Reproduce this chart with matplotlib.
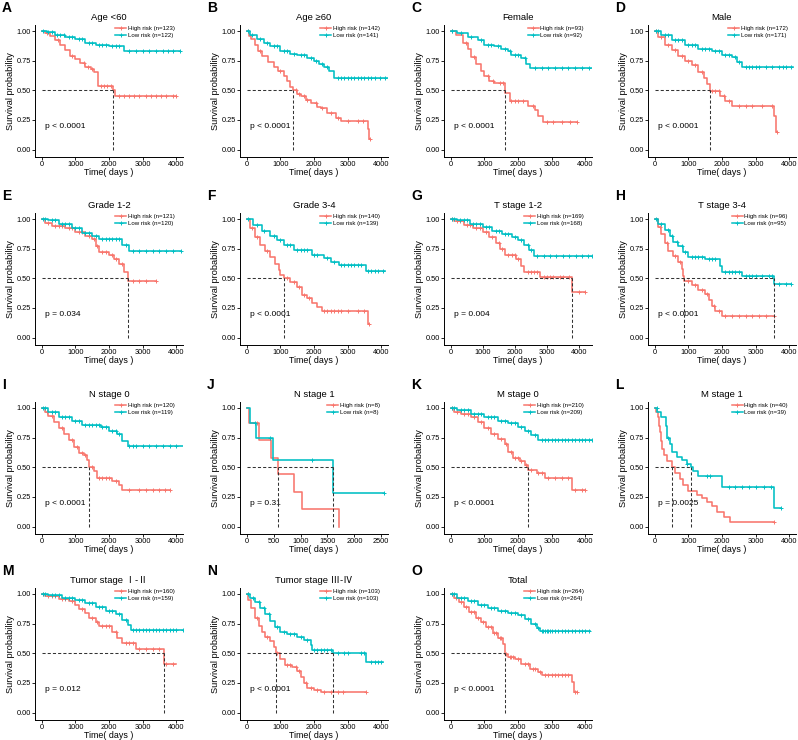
import numpy as np
import matplotlib
matplotlib.use('Agg')
import matplotlib.pyplot as plt
from matplotlib.lines import Line2D

plt.rcParams['font.family'] = ['Liberation Sans', 'Noto Sans CJK SC', 'DejaVu Sans']

# ---- data: (time, survival) step points + censor times ----
A_HIGH = [(0, 1), (100, 0.98), (250, 0.96), (400, 0.92), (550, 0.88), (700, 0.84), (850, 0.79), (1000, 0.76),
          (1150, 0.73), (1300, 0.70), (1450, 0.68), (1560, 0.65), (1660, 0.54), (2110, 0.50), (2180, 0.45), (4000, 0.45)]
A_HIGH_CENS = [150, 480, 900, 1250, 1380, 1500, 1750, 1850, 1950, 2050, 2300, 2450, 2600, 2750, 2900, 3100, 3250,
               3400, 3550, 3700, 3900, 4000]
A_LOW = [(0, 1), (150, 0.99), (400, 0.97), (700, 0.95), (1000, 0.93), (1300, 0.90), (1600, 0.88), (2000, 0.87),
         (2450, 0.83), (4100, 0.83)]
A_LOW_CENS = [50, 200, 300, 450, 550, 650, 800, 900, 1100, 1200, 1400, 1500, 1700, 1800, 1900, 2100, 2200, 2300,
              2600, 2800, 3000, 3200, 3400, 3600, 3750, 3900, 4100]

B_HIGH = [(0, 1), (60, 0.96), (130, 0.93), (250, 0.88), (330, 0.83), (450, 0.79), (625, 0.74), (800, 0.70),
          (920, 0.66), (1100, 0.62), (1200, 0.58), (1300, 0.53), (1370, 0.50), (1500, 0.47), (1620, 0.45),
          (1750, 0.42), (1915, 0.39), (2100, 0.36), (2200, 0.35), (2400, 0.31), (2650, 0.27), (2800, 0.24),
          (3600, 0.17), (3640, 0.09), (3660, 0.09)]
B_HIGH_CENS = [50, 400, 1000, 1450, 1550, 1700, 1800, 2050, 2250, 2500, 2700, 3000, 3300, 3450, 3660]
B_LOW = [(0, 1), (100, 0.97), (300, 0.93), (500, 0.90), (700, 0.87), (1000, 0.83), (1300, 0.81), (1500, 0.80),
         (1800, 0.77), (2000, 0.75), (2150, 0.72), (2300, 0.70), (2450, 0.66), (2600, 0.60), (4200, 0.60)]
B_LOW_CENS = [30, 150, 400, 600, 800, 900, 1100, 1200, 1400, 1600, 1700, 1900, 2050, 2250, 2400, 2700, 2800, 2900,
              3000, 3100, 3200, 3300, 3400, 3500, 3600, 3700, 3800, 3950, 4100]

C_HIGH = [(0, 1), (150, 0.97), (350, 0.90), (500, 0.85), (600, 0.78), (750, 0.72), (900, 0.66), (1000, 0.62),
          (1150, 0.58), (1300, 0.56), (1620, 0.48), (1750, 0.41), (2300, 0.37), (2500, 0.33), (2600, 0.28),
          (2750, 0.23), (3750, 0.23)]
C_HIGH_CENS = [50, 450, 700, 1100, 1250, 1450, 1550, 1800, 1900, 2000, 2150, 2450, 2850, 3050, 3300, 3550, 3750]
C_LOW = [(0, 1), (200, 0.98), (500, 0.95), (800, 0.92), (1000, 0.88), (1300, 0.87), (1500, 0.85), (1700, 0.83),
         (1800, 0.80), (2100, 0.77), (2250, 0.72), (2350, 0.69), (4200, 0.69)]
C_LOW_CENS = [50, 300, 600, 900, 1100, 1200, 1400, 1600, 1750, 1900, 2000, 2200, 2500, 2700, 2900, 3100, 3300,
              3500, 3700, 3900, 4100]

D_HIGH = [(0, 1), (100, 0.95), (300, 0.88), (500, 0.84), (700, 0.79), (900, 0.75), (1100, 0.71), (1300, 0.65),
          (1450, 0.60), (1550, 0.55), (1640, 0.49), (1950, 0.45), (2100, 0.41), (2300, 0.37), (3550, 0.28),
          (3610, 0.15), (3630, 0.15)]
D_HIGH_CENS = [50, 200, 400, 600, 800, 1000, 1200, 1400, 1700, 1800, 1900, 2050, 2200, 2500, 2700, 2900, 3200,
               3500, 3630]
D_LOW = [(0, 1), (200, 0.97), (500, 0.92), (900, 0.88), (1300, 0.85), (1700, 0.83), (2000, 0.80), (2300, 0.78),
         (2450, 0.74), (2600, 0.70), (4100, 0.70)]
D_LOW_CENS = [30, 100, 300, 400, 600, 700, 800, 1000, 1100, 1200, 1400, 1500, 1600, 1800, 1900, 2100, 2200, 2400,
              2500, 2700, 2800, 2900, 3000, 3100, 3300, 3500, 3700, 3800, 3900, 4050]

E_HIGH = [(0, 1), (100, 0.97), (300, 0.94), (700, 0.92), (1000, 0.89), (1300, 0.86), (1500, 0.83), (1600, 0.77),
          (1700, 0.72), (2000, 0.70), (2150, 0.66), (2300, 0.62), (2450, 0.55), (2570, 0.48), (3400, 0.48)]
E_HIGH_CENS = [200, 400, 500, 600, 800, 900, 1100, 1200, 1400, 1550, 1650, 1800, 1900, 2100, 2200, 2400, 2700,
               2900, 3100, 3400]
E_LOW = [(0, 1), (200, 0.99), (500, 0.96), (900, 0.92), (1200, 0.88), (1500, 0.86), (1700, 0.83), (2400, 0.78),
         (2600, 0.73), (4150, 0.73)]
E_LOW_CENS = [50, 100, 300, 400, 600, 700, 800, 1000, 1100, 1300, 1400, 1600, 1800, 1900, 2000, 2100, 2200, 2300,
              2500, 2700, 2900, 3100, 3300, 3500, 3700, 3900, 4150]

F_HIGH = [(0, 1), (100, 0.92), (250, 0.85), (400, 0.78), (550, 0.73), (700, 0.68), (850, 0.62), (950, 0.57),
          (1000, 0.53), (1120, 0.50), (1300, 0.47), (1500, 0.43), (1650, 0.36), (1800, 0.33), (1950, 0.29),
          (2100, 0.26), (2250, 0.22), (3600, 0.11), (3630, 0.11)]
F_HIGH_CENS = [150, 300, 600, 1200, 1400, 1550, 1700, 1850, 2300, 2400, 2500, 2600, 2700, 2800, 3000, 3300, 3500,
               3630]
F_LOW = [(0, 1), (200, 0.95), (450, 0.90), (700, 0.86), (900, 0.82), (1100, 0.78), (1400, 0.74), (1950, 0.70),
         (2300, 0.67), (2500, 0.64), (2750, 0.61), (3550, 0.56), (4100, 0.56)]
F_LOW_CENS = [50, 300, 500, 800, 1000, 1200, 1300, 1500, 1600, 1700, 1800, 2000, 2100, 2400, 2600, 2800, 2900,
              3000, 3100, 3200, 3300, 3400, 3600, 3700, 3800, 3900, 4050]

G_HIGH = [(0, 1), (100, 0.98), (400, 0.95), (700, 0.92), (1000, 0.89), (1200, 0.85), (1400, 0.80), (1550, 0.75),
          (1700, 0.70), (2050, 0.66), (2200, 0.60), (2300, 0.55), (2800, 0.51), (3780, 0.38), (4200, 0.38)]
G_HIGH_CENS = [50, 200, 300, 500, 600, 800, 900, 1100, 1300, 1500, 1600, 1800, 1900, 2000, 2100, 2400, 2500, 2600,
               2700, 2900, 3000, 3100, 3200, 3400, 3500, 3700, 4000, 4200]
G_LOW = [(0, 1), (200, 0.99), (600, 0.96), (1000, 0.93), (1300, 0.90), (1600, 0.87), (1900, 0.85), (2100, 0.82),
         (2300, 0.78), (2450, 0.74), (2600, 0.69), (4400, 0.69)]
G_LOW_CENS = [50, 100, 300, 400, 500, 700, 800, 900, 1100, 1200, 1400, 1500, 1700, 1800, 2000, 2200, 2400, 2500,
              2700, 2900, 3100, 3300, 3500, 3700, 3900, 4100, 4300, 4400]

H_HIGH = [(0, 1), (100, 0.93), (200, 0.87), (300, 0.80), (400, 0.73), (550, 0.69), (700, 0.64), (800, 0.58),
          (850, 0.52), (885, 0.48), (1100, 0.44), (1300, 0.40), (1500, 0.37), (1600, 0.32), (1700, 0.27),
          (1800, 0.22), (2000, 0.18), (3550, 0.18)]
H_HIGH_CENS = [150, 350, 600, 750, 1000, 1200, 1400, 1550, 1750, 1900, 2100, 2300, 2500, 2700, 2900, 3100, 3300,
               3550]
H_LOW = [(0, 1), (100, 0.96), (300, 0.91), (450, 0.86), (550, 0.81), (700, 0.77), (850, 0.72), (1000, 0.68),
         (1500, 0.66), (1950, 0.60), (2000, 0.55), (2600, 0.52), (3560, 0.45), (4050, 0.45)]
H_LOW_CENS = [50, 200, 400, 500, 650, 800, 900, 1100, 1200, 1300, 1400, 1600, 1700, 1800, 2100, 2200, 2300, 2400,
              2500, 2700, 2800, 2900, 3000, 3200, 3400, 3500, 3700, 3900, 4050]

I_HIGH = [(0, 1), (100, 0.97), (200, 0.93), (350, 0.88), (500, 0.83), (650, 0.78), (800, 0.73), (950, 0.67),
          (1100, 0.62), (1250, 0.60), (1350, 0.56), (1420, 0.50), (1550, 0.47), (1650, 0.41), (2100, 0.38),
          (2300, 0.35), (2400, 0.31), (3800, 0.31)]
I_HIGH_CENS = [150, 300, 600, 900, 1050, 1200, 1300, 1500, 1700, 1800, 1900, 2000, 2200, 2600, 2900, 3100, 3300,
               3500, 3650, 3800]
I_LOW = [(0, 1), (200, 0.97), (500, 0.92), (900, 0.89), (1200, 0.86), (1750, 0.84), (2000, 0.81), (2250, 0.78),
         (2400, 0.72), (2550, 0.68), (4200, 0.68)]
I_LOW_CENS = [50, 100, 300, 400, 600, 700, 800, 1000, 1100, 1300, 1400, 1500, 1600, 1700, 1800, 1900, 2100, 2200,
              2300, 2600, 2700, 2800, 3000, 3200, 3400, 3600, 3800, 4000]

J_HIGH = [(0, 1), (40, 0.875), (220, 0.73), (450, 0.58), (585, 0.44), (880, 0.29), (1030, 0.15), (1720, 0.0)]
J_HIGH_CENS = [190]
J_LOW = [(0, 1), (60, 0.875), (170, 0.75), (480, 0.56), (1600, 0.28), (2550, 0.28)]
J_LOW_CENS = [160, 440, 1220, 2550]

K_HIGH = [(0, 1), (100, 0.97), (300, 0.95), (600, 0.92), (800, 0.88), (1000, 0.83), (1200, 0.78), (1400, 0.74),
          (1600, 0.70), (1700, 0.63), (1850, 0.58), (2050, 0.55), (2200, 0.52), (2300, 0.48), (2550, 0.45),
          (2800, 0.41), (3620, 0.31), (4000, 0.31)]
K_HIGH_CENS = [50, 200, 400, 500, 700, 900, 1100, 1300, 1500, 1650, 1800, 1900, 2000, 2100, 2250, 2400, 2600, 2700,
               2900, 3100, 3300, 3500, 3700, 3900, 4000]
K_LOW = [(0, 1), (200, 0.98), (600, 0.95), (1000, 0.92), (1400, 0.89), (1700, 0.87), (2000, 0.84), (2200, 0.81),
         (2400, 0.77), (2600, 0.73), (4200, 0.73)]
K_LOW_CENS = [50, 100, 300, 400, 500, 700, 800, 900, 1100, 1200, 1300, 1500, 1600, 1800, 1900, 2100, 2300, 2500,
              2700, 2800, 2900, 3000, 3100, 3200, 3300, 3400, 3500, 3600, 3700, 3800, 3900, 4000, 4100, 4200]

L_HIGH = [(0, 1), (50, 0.97), (90, 0.92), (120, 0.85), (150, 0.80), (180, 0.72), (220, 0.65), (270, 0.60),
          (350, 0.55), (500, 0.50), (600, 0.45), (750, 0.40), (850, 0.35), (1000, 0.30), (1250, 0.27), (1400, 0.24),
          (1550, 0.21), (1700, 0.17), (1850, 0.12), (2050, 0.08), (2250, 0.04), (3550, 0.04)]
L_HIGH_CENS = [3550]
L_LOW = [(0, 1), (80, 0.97), (200, 0.92), (330, 0.85), (370, 0.75), (450, 0.70), (500, 0.63), (650, 0.59),
         (800, 0.56), (950, 0.53), (1085, 0.50), (1150, 0.47), (1300, 0.43), (2000, 0.33), (3560, 0.16), (3750, 0.16)]
L_LOW_CENS = [60, 380, 970, 1550, 1650, 2200, 2400, 2600, 2800, 3000, 3250, 3450, 3750]

M_HIGH = [(0, 1), (100, 0.98), (500, 0.96), (800, 0.94), (1000, 0.91), (1100, 0.87), (1300, 0.84), (1400, 0.80),
          (1600, 0.76), (1700, 0.73), (2100, 0.68), (2250, 0.63), (2400, 0.59), (2800, 0.54), (3630, 0.41),
          (4000, 0.41)]
M_HIGH_CENS = [50, 200, 300, 400, 600, 700, 900, 1200, 1500, 1650, 1800, 1900, 2000, 2200, 2500, 2600, 2700, 2900,
               3100, 3300, 3500, 3700, 3900]
M_LOW = [(0, 1), (200, 0.99), (600, 0.97), (1000, 0.95), (1300, 0.92), (1600, 0.89), (1900, 0.86), (2200, 0.83),
         (2400, 0.78), (2550, 0.74), (2650, 0.70), (4200, 0.70)]
M_LOW_CENS = [50, 100, 300, 400, 500, 700, 800, 900, 1100, 1200, 1400, 1500, 1700, 1800, 2000, 2100, 2300, 2500,
              2700, 2800, 2900, 3000, 3100, 3200, 3300, 3400, 3500, 3600, 3700, 3800, 3900, 4000, 4200]

N_HIGH = [(0, 1), (50, 0.95), (120, 0.88), (250, 0.80), (350, 0.73), (450, 0.68), (550, 0.64), (700, 0.60),
          (800, 0.55), (875, 0.50), (1000, 0.45), (1150, 0.40), (1350, 0.38), (1500, 0.35), (1600, 0.30),
          (1700, 0.25), (1800, 0.21), (2000, 0.19), (2200, 0.17), (3550, 0.17)]
N_HIGH_CENS = [30, 300, 600, 900, 1200, 1300, 1450, 1550, 1750, 1900, 2100, 2300, 2500, 2700, 2850, 3550]
N_LOW = [(0, 1), (100, 0.97), (250, 0.93), (400, 0.88), (550, 0.83), (700, 0.77), (850, 0.72), (1000, 0.68),
         (1200, 0.66), (1500, 0.64), (1700, 0.61), (1900, 0.57), (1950, 0.53), (2555, 0.50), (3560, 0.43),
         (4050, 0.43)]
N_LOW_CENS = [50, 200, 350, 500, 650, 900, 1100, 1300, 1400, 1600, 1800, 2000, 2100, 2200, 2300, 2400, 2500, 2700,
              2900, 3000, 3400, 3500, 3700, 3800, 3900, 4000]

O_HIGH = [(0, 1), (100, 0.97), (250, 0.93), (400, 0.89), (550, 0.85), (750, 0.80), (900, 0.76), (1050, 0.72),
          (1250, 0.67), (1400, 0.63), (1550, 0.58), (1600, 0.53), (1620, 0.49), (1700, 0.47), (1900, 0.45),
          (2100, 0.41), (2350, 0.37), (2600, 0.34), (2700, 0.32), (3600, 0.26), (3650, 0.17), (3750, 0.17)]
O_HIGH_CENS = [50, 150, 300, 450, 600, 700, 800, 950, 1100, 1200, 1300, 1350, 1450, 1500, 1650, 1750, 1800, 1850,
               2000, 2200, 2300, 2450, 2500, 2650, 2800, 2900, 3000, 3100, 3200, 3300, 3400, 3500, 3700, 3750]
O_LOW = [(0, 1), (200, 0.97), (500, 0.94), (800, 0.91), (1100, 0.88), (1400, 0.86), (1700, 0.84), (2000, 0.82),
         (2200, 0.79), (2400, 0.75), (2550, 0.71), (2650, 0.69), (4150, 0.69)]
O_LOW_CENS = [30, 100, 300, 400, 600, 700, 900, 1000, 1200, 1300, 1500, 1600, 1800, 1900, 2100, 2300, 2500, 2600,
              2700, 2750, 2800, 2850, 2900, 2950, 3000, 3100, 3200, 3300, 3400, 3500, 3600, 3700, 3800, 3900, 4000,
              4100]

LETTERS = list('ABCDEFGHIJKLMNO')
TITLES = ['Age <60', 'Age \u226560', 'Female', 'Male', 'Grade 1-2', 'Grade 3-4', 'T stage 1-2', 'T stage 3-4',
          'N stage 0', 'N stage 1', 'M stage 0', 'M stage 1', 'Tumor stage \u2160-\u2161',
          'Tumor stage \u2162-\u2163', 'Total']
N_HIGH_RISK = [123, 142, 93, 172, 121, 140, 169, 96, 120, 8, 210, 40, 160, 103, 264]
N_LOW_RISK = [122, 141, 92, 171, 120, 139, 168, 95, 119, 8, 209, 39, 159, 103, 264]
PVALS = ['p < 0.0001', 'p < 0.0001', 'p < 0.0001', 'p < 0.0001', 'p = 0.034', 'p < 0.0001', 'p = 0.004',
         'p < 0.0001', 'p < 0.0001', 'p = 0.31', 'p < 0.0001', 'p = 0.0025', 'p = 0.012', 'p < 0.0001',
         'p < 0.0001']
XMAX = [4000, 4000, 4000, 4000, 4000, 4000, 4200, 4000, 4000, 2500, 4000, 4000, 4000, 4000, 4000]

HIGH = [A_HIGH, B_HIGH, C_HIGH, D_HIGH, E_HIGH, F_HIGH, G_HIGH, H_HIGH, I_HIGH, J_HIGH, K_HIGH, L_HIGH,
        M_HIGH, N_HIGH, O_HIGH]
HIGH_CENS = [A_HIGH_CENS, B_HIGH_CENS, C_HIGH_CENS, D_HIGH_CENS, E_HIGH_CENS, F_HIGH_CENS, G_HIGH_CENS,
             H_HIGH_CENS, I_HIGH_CENS, J_HIGH_CENS, K_HIGH_CENS, L_HIGH_CENS, M_HIGH_CENS, N_HIGH_CENS, O_HIGH_CENS]
LOW = [A_LOW, B_LOW, C_LOW, D_LOW, E_LOW, F_LOW, G_LOW, H_LOW, I_LOW, J_LOW, K_LOW, L_LOW, M_LOW, N_LOW, O_LOW]
LOW_CENS = [A_LOW_CENS, B_LOW_CENS, C_LOW_CENS, D_LOW_CENS, E_LOW_CENS, F_LOW_CENS, G_LOW_CENS, H_LOW_CENS,
            I_LOW_CENS, J_LOW_CENS, K_LOW_CENS, L_LOW_CENS, M_LOW_CENS, N_LOW_CENS, O_LOW_CENS]

RED = '#F8766D'
CYAN = '#00BFC4'

W, H = 798, 740
COL_LEFT = [35, 240, 444, 648]   # px of y-axis line
ROW_ONE = [31, 219, 408, 594]    # px of the 1.00 level
UNIT = 118.5                     # px per 1.0 survival
AX_W = 148


def draw_curve(ax, pts, cens, color):
    t = np.array([p[0] for p in pts], float)
    s = np.array([p[1] for p in pts], float)
    ax.step(t, s, where='post', color=color, lw=1.15, zorder=3)
    c = np.array(cens, float)
    idx = np.clip(np.searchsorted(t, c, side='right') - 1, 0, len(s) - 1)
    ax.plot(c, s[idx], ls='none', marker='+', color=color, markersize=3.5, mew=0.7, zorder=3)
    below = np.where(s <= 0.5)[0]
    return t[below[0]] if len(below) else None


fig = plt.figure(figsize=(W / 100, H / 100), dpi=100)

for i in range(15):
    r, c = divmod(i, 4)
    y1 = ROW_ONE[r]
    ax = fig.add_axes([COL_LEFT[c] / W, 1 - (y1 + 1.06 * UNIT) / H, AX_W / W, 1.11 * UNIT / H])
    xm = XMAX[i]
    med_h = draw_curve(ax, HIGH[i], HIGH_CENS[i], RED)
    med_l = draw_curve(ax, LOW[i], LOW_CENS[i], CYAN)

    # median survival lines
    meds = [m for m in (med_h, med_l) if m is not None]
    if meds:
        ax.plot([0, max(meds)], [0.5, 0.5], ls=(0, (3, 2)), color='#333333', lw=0.75, zorder=4)
        for m in meds:
            ax.plot([m, m], [0, 0.5], ls=(0, (3, 2)), color='#333333', lw=0.75, zorder=4)

    ax.set_xlim(-0.05 * xm, 1.05 * xm)
    ax.set_ylim(-0.06, 1.05)
    step = 500 if xm < 3000 else 1000
    ax.set_xticks(np.arange(0, xm + 1, step))
    ax.set_yticks([0, 0.25, 0.5, 0.75, 1.0])
    ax.set_yticklabels(['0.00', '0.25', '0.50', '0.75', '1.00'])
    for sp in ('top', 'right'):
        ax.spines[sp].set_visible(False)
    for sp in ('left', 'bottom'):
        ax.spines[sp].set_linewidth(0.7)
    ax.tick_params(labelsize=5.3, length=2, width=0.6, pad=1, colors='black')

    ax.set_xlabel('Time( days )', fontsize=6.4, labelpad=0.5)
    ax.set_ylabel('Survival probability', fontsize=6.6, labelpad=1)
    ax.set_title(TITLES[i], fontsize=6.8, pad=3.5)
    ax.text(0.027 * xm, 0.19, PVALS[i], fontsize=6, ha='left', va='center')

    handles = [Line2D([], [], color=RED, lw=1.1, marker='+', markersize=3.5, mew=0.7),
               Line2D([], [], color=CYAN, lw=1.1, marker='+', markersize=3.5, mew=0.7)]
    labels = [f'High risk (n={N_HIGH_RISK[i]})', f'Low risk (n={N_LOW_RISK[i]})']
    ax.legend(handles, labels, loc='upper right', bbox_to_anchor=(0.95, 1.0), fontsize=4.4, frameon=False,
              handlelength=1.8, handletextpad=0.3, labelspacing=0.25, borderaxespad=0, borderpad=0.1)

    fig.text((COL_LEFT[c] - 33) / W, 1 - (y1 - 23) / H, LETTERS[i], fontsize=10, fontweight='bold',
             ha='left', va='center')

fig.savefig('out.png', dpi=100)
